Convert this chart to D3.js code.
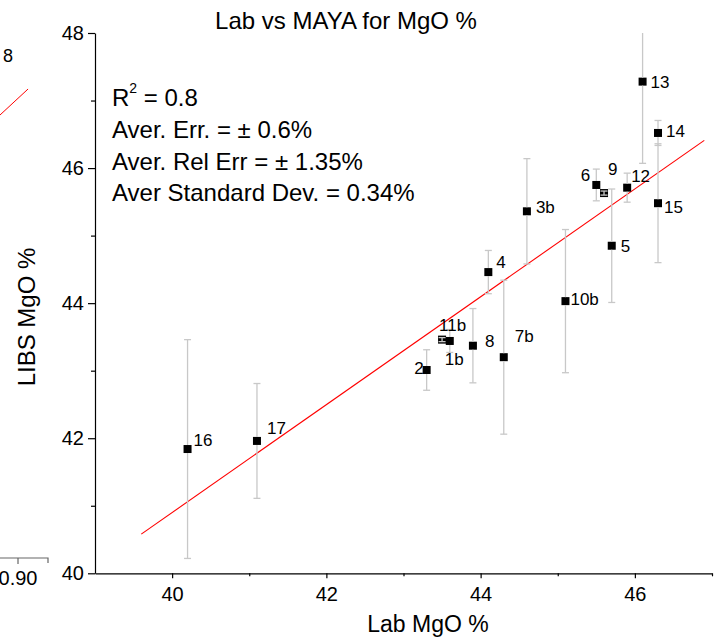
<!DOCTYPE html>
<html>
<head>
<meta charset="utf-8">
<script src="https://cdn.jsdelivr.net/npm/d3@7"></script>
<style>
  html, body { margin: 0; padding: 0; background: #fff; }
  svg { display: block; }
  text { font-family: "Liberation Sans", Arial, Helvetica, sans-serif; fill: #000; }
</style>
</head>
<body>
<svg id="chart" width="723" height="644"></svg>
<script>
// ---------------- data ----------------
const pointLabels = ["16","17","2","11b","1b","8","7b","4","3b","10b","5","6","9","12","13","14","15"];
const labMgO  = [40.2, 41.1, 43.3, 43.5, 43.6, 43.9, 44.3, 44.1, 44.6, 45.1, 45.7, 45.5, 45.6, 45.9, 46.1, 46.3, 46.3];
const libsMgO = [41.84, 41.96, 43.01, 43.46, 43.44, 43.37, 43.20, 44.46, 45.36, 44.03, 44.85, 45.75, 45.63, 45.71, 47.28, 46.52, 45.48];
const libsErr = [1.62, 0.85, 0.30, 0.03, 0.17, 0.55, 1.14, 0.32, 0.78, 1.06, 0.84, 0.235, 0.03, 0.215, 1.21, 0.185, 0.88];

const fitX = [39.6, 46.9];
const fitY = [40.58, 46.41];

const xMajorTicks = [40, 42, 44, 46];
const xMinorTicks = [41, 43, 45, 47];
const yMajorTicks = [40, 42, 44, 46, 48];
const yMinorTicks = [41, 43, 45, 47];

const titleText = "Lab vs MAYA for MgO %";
const xTitle = "Lab MgO %";
const yTitle = "LIBS MgO %";
const statLines = ["Aver. Err. = \u00B1 0.6%", "Aver. Rel Err = \u00B1 1.35%", "Aver Standard Dev. = 0.34%"];
const r2Value = "0.8";

// neighbouring (cropped) chart on the left
const neighborTicks = [0.90];
const neighborLineX = [0.888, 0.9067];
const neighborLineY = [0.40, 0.80];
const neighborLabel = "8";

// ---------------- layout (label offsets relative to marker) ----------------
const labelLayout = {
  "16": [6, -3, "start"], "17": [10, -7, "start"], "2": [-3, 4, "end"],
  "11b": [-3, -9, "start"], "1b": [-5, 24, "start"], "8": [12, 1, "start"],
  "7b": [11, -15, "start"], "4": [8, -4, "start"], "3b": [9, 2, "start"],
  "10b": [5, 4, "start"], "5": [9, 6, "start"], "6": [-6, -4, "end"],
  "9": [4, -18, "start"], "12": [4, -6, "start"], "13": [8, 6, "start"],
  "14": [8, 4, "start"], "15": [6, 10, "start"]
};

const svg = d3.select("#chart");
const x = d3.scaleLinear().domain([39, 47]).range([95, 712]);
const y = d3.scaleLinear().domain([40, 48]).range([573.3, 33]);

// ---------------- neighbour fragment ----------------
const xN = d3.scaleLinear().domain([0.86, 0.92]).range([-42, 48]);
const yN = d3.scaleLinear().domain([0, 1]).range([141, 76]);
const gN = svg.append("g").attr("transform", "translate(0,558)");
gN.append("path").attr("d", `M${xN(0.86)},0H${xN(0.92)}V5`).attr("fill", "none").attr("stroke", "#666").attr("stroke-width", 1.2);
gN.selectAll("line.nt").data(neighborTicks).join("line")
  .attr("x1", d => xN(d)).attr("x2", d => xN(d)).attr("y1", 0).attr("y2", 6)
  .attr("stroke", "#666").attr("stroke-width", 1.2);
gN.selectAll("text.nt").data(neighborTicks).join("text")
  .attr("x", d => xN(d)).attr("y", 27).attr("text-anchor", "middle")
  .style("font-size", "20px").text(d => d.toFixed(2));
svg.append("line")
  .attr("x1", xN(neighborLineX[0])).attr("y1", yN(neighborLineY[0]))
  .attr("x2", xN(neighborLineX[1])).attr("y2", yN(neighborLineY[1]))
  .attr("stroke", "#ff0000").attr("stroke-width", 1);
svg.append("text").attr("x", 3).attr("y", 62).style("font-size", "18px").text(neighborLabel);

// ---------------- axes ----------------
const gx = svg.append("g").attr("transform", `translate(0,${y(40)})`);
gx.call(d3.axisBottom(x).tickValues(xMajorTicks).tickSize(5).tickSizeOuter(0).tickPadding(9).tickFormat(d3.format("d")));
const gxm = svg.append("g").attr("transform", `translate(0,${y(40)})`);
gxm.call(d3.axisBottom(x).tickValues(xMinorTicks).tickSize(3).tickSizeOuter(0).tickFormat(""));
gxm.select(".domain").remove();

const gy = svg.append("g").attr("transform", `translate(${x(39)},0)`);
gy.call(d3.axisLeft(y).tickValues(yMajorTicks).tickSize(7).tickSizeOuter(0).tickPadding(4).tickFormat(d3.format("d")));
const gym = svg.append("g").attr("transform", `translate(${x(39)},0)`);
gym.call(d3.axisLeft(y).tickValues(yMinorTicks).tickSize(4).tickSizeOuter(0).tickFormat(""));
gym.select(".domain").remove();

svg.selectAll(".tick text").style("font-size", "20px").attr("fill", "#000")
  .style("font-family", '"Liberation Sans", Arial, sans-serif');
svg.selectAll(".domain, .tick line").attr("stroke", "#000").attr("stroke-width", 1.2);

// axis titles
svg.append("text").attr("x", 428).attr("y", 632).attr("text-anchor", "middle")
  .style("font-size", "23px").text(xTitle);
svg.append("text").attr("transform", "translate(35,317) rotate(-90)").attr("text-anchor", "middle")
  .style("font-size", "24px").text(yTitle);
svg.append("text").attr("x", 346).attr("y", 29).attr("text-anchor", "middle")
  .style("font-size", "24px").text(titleText);

// ---------------- fit line ----------------
svg.append("line")
  .attr("x1", x(fitX[0])).attr("y1", y(fitY[0]))
  .attr("x2", x(fitX[1])).attr("y2", y(fitY[1]))
  .attr("stroke", "#ff0000").attr("stroke-width", 1.1);

// ---------------- points ----------------
const pts = pointLabels.map((lab, i) => ({ lab, xv: labMgO[i], yv: libsMgO[i], e: libsErr[i] }));
const half = 4;
const gp = svg.append("g");
gp.selectAll("rect.mk").data(pts).join("rect")
  .attr("x", d => x(d.xv) - half).attr("y", d => y(d.yv) - half)
  .attr("width", half * 2).attr("height", half * 2).attr("fill", "#000");

// error bars (drawn over, with a gap at the marker)
const eb = svg.append("g").attr("stroke", "#c8c8c8").attr("stroke-width", 1.3).attr("fill", "none");
pts.forEach(d => {
  const cx = x(d.xv), cy = y(d.yv);
  const topV = Math.min(d.yv + d.e, 48), botV = Math.max(d.yv - d.e, 40);
  const yt = y(topV), yb = y(botV);
  if (yt < cy - half) eb.append("line").attr("x1", cx).attr("x2", cx).attr("y1", yt).attr("y2", cy - half);
  if (yb > cy + half) eb.append("line").attr("x1", cx).attr("x2", cx).attr("y1", cy + half).attr("y2", yb);
  if (d.yv + d.e <= 48) eb.append("line").attr("x1", cx - 3.5).attr("x2", cx + 3.5).attr("y1", yt).attr("y2", yt);
  eb.append("line").attr("x1", cx - 3.5).attr("x2", cx + 3.5).attr("y1", yb).attr("y2", yb);
  if (yt >= cy - half) eb.append("line").attr("x1", cx).attr("x2", cx).attr("y1", yt).attr("y2", yb);
});

svg.append("g").selectAll("text").data(pts).join("text")
  .attr("x", d => x(d.xv) + labelLayout[d.lab][0])
  .attr("y", d => y(d.yv) + labelLayout[d.lab][1])
  .attr("text-anchor", d => labelLayout[d.lab][2])
  .style("font-size", "17px").text(d => d.lab);

// ---------------- statistics box ----------------
const r2 = svg.append("text").attr("x", 112).attr("y", 106).style("font-size", "24px");
r2.append("tspan").text("R");
r2.append("tspan").attr("dy", -13).style("font-size", "14px").text("2");
r2.append("tspan").attr("dy", 13).text(" = " + r2Value);
svg.append("g").selectAll("text").data(statLines).join("text")
  .attr("x", 112).attr("y", (d, i) => 138.3 + i * 31.2)
  .style("font-size", "24px").text(d => d);
</script>
</body>
</html>
